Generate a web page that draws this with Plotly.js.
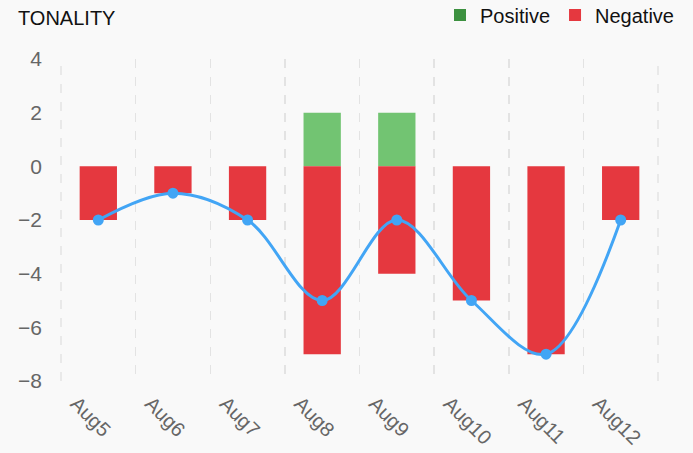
<!DOCTYPE html>
<html>
<head>
<meta charset="utf-8">
<script src="https://cdn.plot.ly/plotly-3.0.1.min.js"></script>
<style>html,body{margin:0;padding:0;background:#f9f9f9;}#chart{width:693px;height:453px;}</style>
</head>
<body>
<div id="chart"></div>
<script>
const categories = ["Aug5","Aug6","Aug7","Aug8","Aug9","Aug10","Aug11","Aug12"];
const positive = [0, 0, 0, 2, 2, 0, 0, 0];
const negative = [-2, -1, -2, -7, -4, -5, -7, -2];
const tonality = [-2, -1, -2, -5, -2, -5, -7, -2];

const posLegendColor = "#3d9140";
const posBarColor = "#72c472";
const negColor = "#e5383f";
const lineColor = "#42a5f5";
const gridColor = "#e3e3e3";

const posColors = positive.map((v, i) => i === 0 ? posLegendColor : posBarColor);

const traces = [
  {type: "bar", name: "Positive", x: categories, y: positive, width: 0.5,
   marker: {color: posColors, line: {width: 0}}, hoverinfo: "skip"},
  {type: "bar", name: "Negative", x: categories, y: negative, width: 0.5,
   marker: {color: negColor, line: {width: 0}}, hoverinfo: "skip"},
  {type: "scatter", mode: "lines+markers", name: "Tonality", x: categories, y: tonality,
   line: {color: lineColor, width: 3, shape: "spline", smoothing: 1},
   marker: {color: lineColor, size: 11}, showlegend: false}
];

const edgeLine = x => ({type: "line", xref: "paper", yref: "paper", x0: x, x1: x, y0: 0, y1: 1,
  line: {color: gridColor, width: 1.5, dash: "dash"}, layer: "below"});

const layout = {
  width: 693, height: 453,
  paper_bgcolor: "#f9f9f9", plot_bgcolor: "#f9f9f9",
  margin: {l: 61, r: 35, t: 59, b: 72},
  barmode: "relative",
  font: {family: "Liberation Sans, Arial, sans-serif", color: "#666"},
  title: {text: "TONALITY", x: 18/693, xref: "container", xanchor: "left",
          y: 1 - 18/453, yref: "container", yanchor: "middle",
          font: {size: 20, color: "#111"}},
  showlegend: true,
  legend: {orientation: "h", x: 1 - 14/693, xanchor: "right", xref: "container", y: 1 - 15/453, yref: "container", yanchor: "middle",
           font: {size: 20, color: "#111"}, bgcolor: "rgba(0,0,0,0)", itemclick: false},
  shapes: [edgeLine(0), edgeLine(1)],
  xaxis: {type: "category", tickson: "boundaries", showgrid: true, gridcolor: gridColor, griddash: "dash", gridwidth: 1.5,
          showline: false, zeroline: false, ticks: "", tickangle: 45, ticklabelshift: -22, ticklabelstandoff: 6,
          tickfont: {size: 20, color: "#666"}},
  yaxis: {range: [-8, 4], dtick: 2, showgrid: false, zeroline: false, showline: false, ticks: "",
          ticklabelstandoff: 18, tickfont: {size: 21, color: "#666"}}
};

Plotly.newPlot("chart", traces, layout, {displayModeBar: false, staticPlot: true});
</script>
</body>
</html>
